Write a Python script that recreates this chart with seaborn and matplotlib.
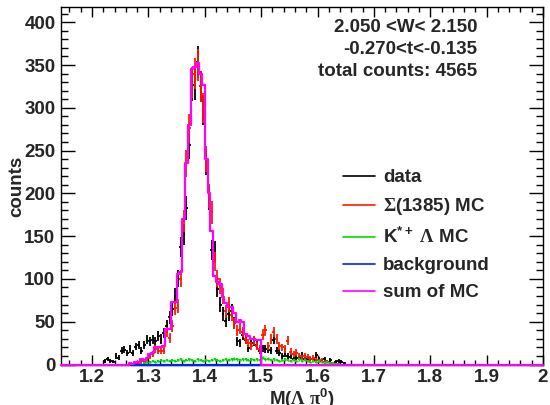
import numpy as np
import matplotlib
matplotlib.use("Agg")
import matplotlib.pyplot as plt
from matplotlib.lines import Line2D
from matplotlib.ticker import MultipleLocator, FuncFormatter
import seaborn as sns

# bin width and axis range of the M(Lambda pi0) histograms
BIN = 0.005
X_LO, X_HI = 1.145, 2.0

# data, first bin starts at 1.220
data_lo = 1.220
data_counts = [4, 6, 4, 3, 10, 8, 16, 17, 13, 18,
               13, 21, 23, 16, 23, 29, 27, 29, 27, 33,
               30, 37, 45, 55, 65, 80, 100, 137, 152, 183,
               256, 326, 327, 354, 325, 297, 237, 195, 134, 133,
               88, 70, 59, 51, 59, 63, 49, 27, 25, 35,
               29, 19, 25, 27, 23, 16, 19, 18, 17, 16,
               29, 16, 14, 10, 12, 10, 9, 6, 8, 8,
               11, 6, 6, 6, 5, 11, 6, 4, 6, 3,
               5, 2, 3, 4, 3, 2]

# Sigma(1385) MC, first bin starts at 1.270
sig_lo = 1.270
sig_counts = [1, 2, 2, 4, 3, 5, 10, 12, 18, 16,
              16, 16, 38, 31, 45, 66, 68, 100, 168, 235,
              276, 330, 340, 350, 325, 300, 240, 197, 178, 120,
              100, 92, 80, 62, 70, 58, 48, 40, 42, 38,
              30, 25, 22, 28, 22, 18, 35, 40, 22, 30,
              38, 30, 22, 20, 18, 28, 15, 12, 14, 10,
              8, 10, 9, 7, 8, 5, 4, 5, 3, 3,
              2, 2, 1, 1]

# K*+ Lambda MC, first bin starts at 1.285
kst_lo = 1.285
kst_counts = [1, 2, 3, 3, 4, 3, 4, 5, 4, 5,
              4, 5, 4, 5, 6, 4, 5, 6, 5, 4,
              6, 5, 4, 5, 4, 5, 6, 5, 4, 5,
              6, 5, 6, 7, 6, 5, 6, 6, 5, 6,
              5, 6, 5, 8, 6, 7, 5, 6, 5, 4,
              5, 6, 5, 4, 5, 4, 6, 4, 5, 4,
              3, 4, 3, 4, 3, 2, 3, 2, 2, 1,
              1]

# background, empty between 1.270 and 1.500
bkg_lo = 1.270
bkg_counts = [0] * 46

# sum of MC, first bin starts at 1.265 (empty elsewhere)
sum_lo = 1.265
sum_counts = [2, 1, 3, 3, 6, 5, 8, 12, 14, 20,
              20, 20, 22, 41, 41, 73, 73, 106, 108, 170,
              236, 280, 345, 348, 352, 340, 327, 240, 200, 156,
              104, 96, 94, 79, 72, 67, 67, 60, 50, 52,
              50, 36, 33, 30, 30, 29, 29]

legend_labels = ["data", r"$\mathsf{\Sigma}$(1385) MC", r"K$^{*+}$ $\mathsf{\Lambda}$ MC",
                 "background", "sum of MC"]
info_lines = ["2.050 <W< 2.150", "-0.270<t<-0.135", "total counts: 4565"]

c_data, c_sig, c_kst, c_bkg, c_sum = "black", "#ff1a00", "#00dd00", "#0022ff", "#ff00ff"


def centres(lo, vals):
    return lo + BIN * (np.arange(len(vals)) + 0.5)


sns.set_style("ticks")
plt.rcParams["font.family"] = ["Liberation Sans", "DejaVu Sans"]
plt.rcParams["font.weight"] = "bold"
plt.rcParams["axes.labelweight"] = "bold"
plt.rcParams["mathtext.fontset"] = "custom"
plt.rcParams["mathtext.rm"] = "Liberation Sans:bold"
plt.rcParams["mathtext.it"] = "Liberation Sans:bold"
plt.rcParams["mathtext.bf"] = "Liberation Sans:bold"
plt.rcParams["mathtext.sf"] = "Liberation Serif"
plt.rcParams["mathtext.default"] = "rm"

fig, ax = plt.subplots(figsize=(5.5, 4.05), dpi=100)
fig.subplots_adjust(left=61 / 550, right=543 / 550, bottom=40.5 / 405, top=1 - 7.3 / 405)

# data points
x = centres(data_lo, data_counts)
y = np.array(data_counts, dtype=float)
ax.errorbar(x, y, xerr=BIN / 2, yerr=np.sqrt(y), fmt="none", ecolor=c_data, elinewidth=1.3)

# Sigma(1385) MC
x = centres(sig_lo, sig_counts)
y = np.array(sig_counts, dtype=float)
ax.errorbar(x, y, xerr=BIN / 2, yerr=np.sqrt(y), fmt="none", ecolor=c_sig, elinewidth=1.3)

# K*+ Lambda MC
x = centres(kst_lo, kst_counts)
y = np.array(kst_counts, dtype=float)
ax.errorbar(x, y, xerr=BIN / 2, yerr=np.sqrt(y) * 0.6, fmt="s", ms=2, color=c_kst,
            ecolor=c_kst, elinewidth=1.0, mew=0)

# background (blue line on the floor)
n0 = len(ax.lines)
bkg_x = centres(bkg_lo, bkg_counts)
sns.histplot(x=bkg_x, weights=np.array(bkg_counts, dtype=float), bins=len(bkg_counts),
             binrange=(bkg_lo, bkg_lo + BIN * len(bkg_counts)),
             element="step", fill=False, color=c_bkg, linewidth=1.6, ax=ax)

# sum of MC over the whole axis range
n_full = int(round((X_HI - X_LO) / BIN))
full_centres = X_LO + BIN * (np.arange(n_full) + 0.5)
full_sum = np.zeros(n_full)
i0 = int(round((sum_lo - X_LO) / BIN))
full_sum[i0:i0 + len(sum_counts)] = sum_counts
sns.histplot(x=full_centres, weights=full_sum, bins=n_full, binrange=(X_LO, X_HI),
             element="step", fill=False, color=c_sum, linewidth=1.6, ax=ax)
for ln in ax.lines[n0:]:
    ln.set_clip_on(False)
    ln.set_zorder(3)

ax.set_xlim(X_LO, X_HI)
ax.set_ylim(0, 417.5)

ax.xaxis.set_major_locator(MultipleLocator(0.1))
ax.xaxis.set_minor_locator(MultipleLocator(0.02))
ax.yaxis.set_major_locator(MultipleLocator(50))
ax.yaxis.set_minor_locator(MultipleLocator(10))
ax.xaxis.set_major_formatter(FuncFormatter(lambda v, p: f"{v:g}"))
ax.yaxis.set_major_formatter(FuncFormatter(lambda v, p: f"{v:g}"))

ax.tick_params(axis="both", which="both", direction="in", top=True, right=True,
               labelsize=13.5, width=1, color="black")
ax.tick_params(axis="x", which="major", length=7.2, pad=3.5)
ax.tick_params(axis="x", which="minor", length=3.6)
ax.tick_params(axis="y", which="major", length=10, pad=4)
ax.tick_params(axis="y", which="minor", length=5)
for s in ax.spines.values():
    s.set_linewidth(1)
    s.set_color("black")

ax.set_xlabel(r"M($\mathsf{\Lambda}$ $\mathsf{\pi}^{0}$)", fontsize=13.5)
ax.xaxis.set_label_coords(0.5, -0.062)
ax.set_ylabel("counts", fontsize=13.5, va="center")
ax.yaxis.set_label_coords(-0.091, 0.5)

for txt, ypix in zip(info_lines, [28, 49.5, 71]):
    fig.text(477 / 550, 1 - ypix / 405, txt, ha="right", va="center", fontsize=13.5,
             fontweight="bold")

handles = [Line2D([], [], color=c, lw=1.2) for c in [c_data, c_sig, c_kst, c_bkg, c_sum]]
fig.legend(handles, legend_labels, loc="upper left", bbox_to_anchor=(343 / 550, 1 - 169 / 405),
           frameon=False, fontsize=13.5, borderpad=0, borderaxespad=0,
           handlelength=1.7, handletextpad=0.45, labelspacing=0.53)

fig.savefig("out.png", dpi=100)
